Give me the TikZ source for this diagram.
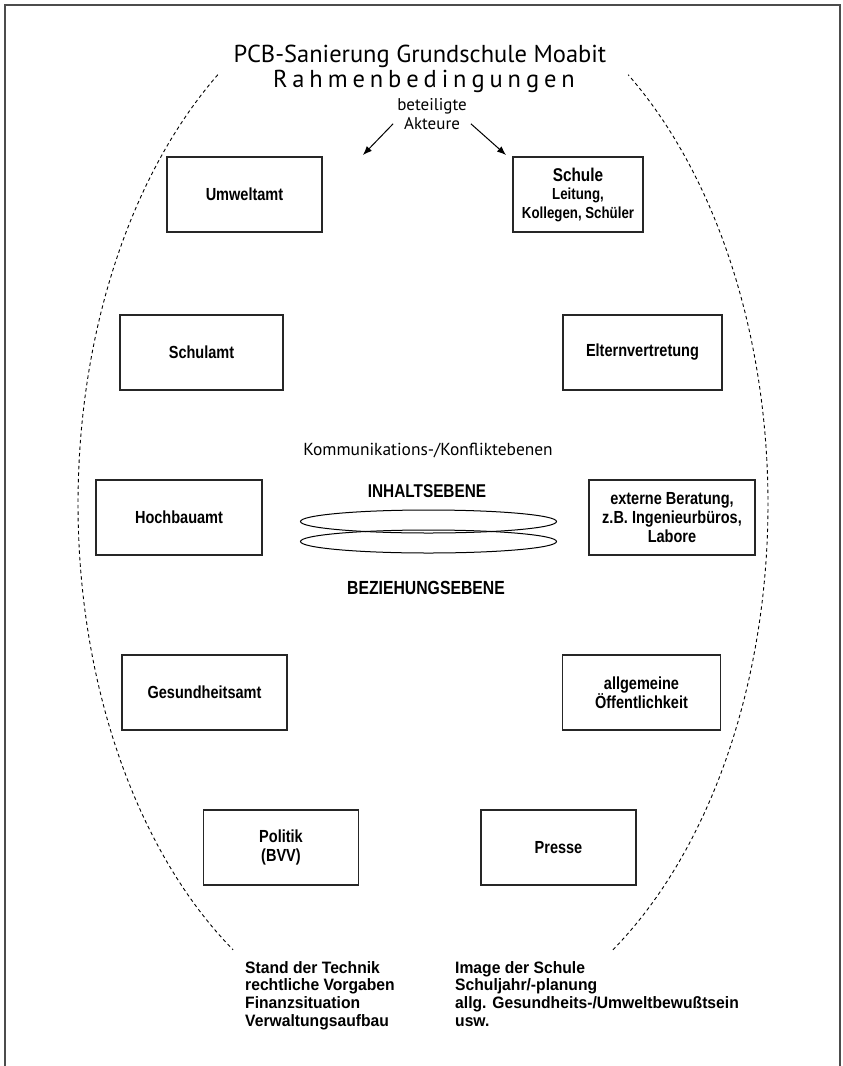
\documentclass[tikz,border=0pt]{standalone}
\usepackage{fontspec}
\setmainfont{PT Sans}
\newfontfamily\boxfont[FakeStretch=0.83]{Liberation Sans}
\newfontfamily\notefont[FakeStretch=0.95]{Liberation Sans}
\usetikzlibrary{arrows.meta,shapes.geometric}
\tikzset{
  actor/.style={draw=black!85, line width=1.1pt, minimum height=75pt,
    inner sep=0pt, align=center, font=\boxfont\bfseries\fontsize{17.5}{19}\selectfont},
  level/.style={draw, ellipse, line width=1pt, minimum width=256pt, minimum height=23pt, inner sep=0pt},
  plain/.style={inner sep=0pt, align=center},
  note/.style={inner sep=0pt, align=left, anchor=north west,
    font=\notefont\bfseries\fontsize{16.5}{17.7}\selectfont},
  pointer/.style={line width=1pt, -{Latex[length=9pt,width=7pt]}},
  frame/.style={draw=black!70, line width=2pt},
  rim/.style={line width=0.9pt, dash pattern=on 3.5pt off 3pt}
}
\begin{document}
\begin{tikzpicture}[x=1pt,y=-1pt]
\useasboundingbox (0,0) rectangle (843,1066);
\fill[white] (0,0) rectangle (843,1066);
% frame
\draw[frame] (5,1066) -- (5,5) -- (840,5) -- (840,1066);
% dashed outer ellipse
\draw[rim] plot[domain=126.5:236.6, samples=160] ({423+345*cos(\x)}, {504-534*sin(\x)});
\draw[rim] plot[domain=-56.6:53.5, samples=160] ({423+345*cos(\x)}, {504-534*sin(\x)});
% title
\node[plain, font=\fontsize{24.5}{28}\selectfont] (title) at (420,56) {PCB-Sanierung Grundschule Moabit};
\node[plain, font=\addfontfeature{LetterSpace=20}\fontsize{24.5}{28}\selectfont] (subtitle) at (424,81) {Rahmenbedingungen};
% actors
\node[plain, font=\fontsize{17}{19}\selectfont] (beteiligt) at (432,114) {beteiligte\\Akteure};
\node[actor, minimum width=155pt] (umwelt) at (244.5,194.5) {Umweltamt};
\node[actor, minimum width=130pt, font=\boxfont\bfseries\fontsize{16}{18.5}\selectfont] (schule) at (578,194.5) {{\fontsize{18.5}{20}\selectfont Schule}\\Leitung,\\Kollegen, Sch\"uler};
\node[actor, minimum width=163pt] (schulamt) at (201.5,352.5) {Schulamt};
\node[actor, minimum width=159pt] (eltern) at (642.5,352.5) {Elternvertretung};
\node[actor, minimum width=166pt] (hochbau) at (179,517.5) {Hochbauamt};
\node[actor, minimum width=166pt] (extern) at (672,517.5) {externe Beratung,\\z.B. Ingenieurb\"uros,\\Labore};
\node[actor, minimum width=165pt] (gesund) at (204.5,692.5) {Gesundheitsamt};
\node[actor, minimum width=158pt] (oeffentl) at (641.5,692.5) {allgemeine\\\"Offentlichkeit};
\node[actor, minimum width=155pt] (politik) at (281,847.5) {Politik\\(BVV)};
\node[actor, minimum width=155pt] (presse) at (558.5,847.5) {Presse};
\coordinate (tipL) at (363,155);
\coordinate (tipR) at (506,155);
\draw[pointer] (beteiligt.south west) ++(-4,-6) coordinate (startL) -- (tipL);
\draw[pointer] (beteiligt.south east) ++(4,-6) coordinate (startR) -- (tipR);
% communication levels
\node[plain, font=\fontsize{17.4}{20}\selectfont] (komm) at (428,451) {Kommunikations-/Konfliktebenen};
\node[plain, font=\boxfont\bfseries\fontsize{18.5}{20}\selectfont] (inhalt) at (427,491) {INHALTSEBENE};
\node[level] (ellA) at (428.5,521.5) {};
\node[level] (ellB) at (428.5,541.5) {};
\node[plain, font=\boxfont\bfseries\fontsize{19}{20}\selectfont] (bezieh) at (426,588) {BEZIEHUNGSEBENE};
% framework conditions
\node[note] (left) at (245,961) {Stand der Technik\\rechtliche Vorgaben\\Finanzsituation\\Verwaltungsaufbau};
\node[note] (right) at (455,961) {Image der Schule\\Schuljahr/-planung\\allg. Gesundheits-/Umweltbewu\ss tsein\\usw.};
\end{tikzpicture}
\end{document}
